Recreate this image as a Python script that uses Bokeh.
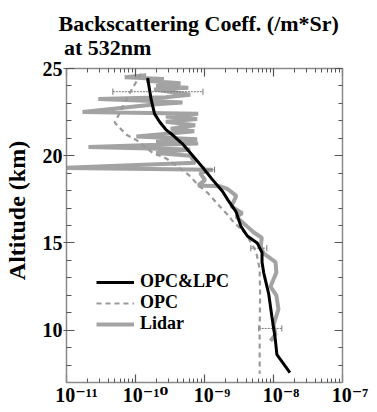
from bokeh.plotting import figure
from bokeh.models import (FixedTicker, LinearAxis, LogAxis, Title, Legend, LegendItem)
from bokeh.embed import file_html
from bokeh.resources import INLINE

# ---- data (altitude km, backscattering coefficient /m*Sr) ----
opc_lpc_alt = [24.45, 23.2, 22.4, 21.95, 21.5, 21.2, 20.7, 20.05, 19.4, 18.7, 17.95, 17.47,
               16.8, 15.95, 15.4, 15.0, 14.45, 13.9, 13.3, 12.1, 10.8, 9.5, 8.6, 7.57]
opc_lpc_val = [1.50e-10, 1.69e-10, 1.89e-10, 2.23e-10, 2.75e-10, 3.43e-10, 4.75e-10, 6.58e-10,
               9.1e-10, 1.26e-9, 1.83e-9, 2.18e-9, 2.86e-9, 3.37e-9, 4.18e-9, 5.8e-9, 6.82e-9,
               6.82e-9, 7.2e-9, 8.5e-9, 9.46e-9, 1.06e-8, 1.12e-8, 1.73e-8]

opc_alt = [24.7, 23.5, 22.5, 21.9, 21.6, 21.2, 20.9, 20.1, 19.96, 19.8, 18.9, 18.3, 17.86,
           17.1, 16.5, 16.3, 15.5, 14.5, 13.5, 12.0, 10.0, 7.5]
opc_val = [1.2e-10, 8.0e-11, 6.0e-11, 5.0e-11, 5.9e-11, 7.4e-11, 1.03e-10, 1.86e-10, 2.44e-10,
           2.9e-10, 5.9e-10, 8.2e-10, 1.12e-9, 1.66e-9, 2.3e-9, 2.5e-9, 4.0e-9, 5.6e-9, 6.3e-9,
           6.4e-9, 6.3e-9, 6.3e-9]

lidar_alt = [24.62, 24.5, 24.4, 24.3, 24.15, 24.0, 23.9, 23.8, 23.5, 23.35, 23.25, 23.15, 23.05,
             22.95, 22.5, 22.4, 22.25, 22.1, 21.95, 21.75, 21.55, 21.4, 21.1, 20.95, 20.8, 20.7,
             20.5, 20.35, 20.15, 20.0, 19.6, 19.3, 19.2, 19.0, 18.6, 18.3, 18.25, 18.1, 17.7,
             17.1, 16.7, 16.5, 15.95, 15.6, 15.3, 14.8, 14.4, 13.9, 13.3, 12.5, 12.0, 11.2,
             10.3, 9.76, 9.38]
lidar_val = [1.43e-10, 6.98e-11, 2.58e-10, 1.43e-10, 4.49e-10, 1.99e-10, 5.83e-10, 1.86e-10,
             6.22e-10, 2.75e-10, 2.89e-11, 1.43e-10, 4.80e-10, 1.99e-10, 1.71e-11, 8.09e-10,
             2.75e-10, 7.83e-10, 2.75e-10, 7.33e-10, 3.24e-10, 7.1e-10, 1.03e-10, 7.83e-10,
             1.99e-10, 8.09e-10, 2.08e-11, 6.22e-10, 1.99e-10, 6.22e-10, 7.33e-10, 9.0e-12,
             1.32e-9, 8.63e-10, 1.02e-9, 8.09e-10, 1.66e-9, 2.15e-9, 2.89e-9, 2.45e-9, 3.52e-9,
             2.89e-9, 4.14e-9, 5.2e-9, 6.76e-9, 6.54e-9, 7.2e-9, 1.07e-8, 1.10e-8, 9.06e-9,
             1.10e-8, 1.18e-8, 1.0e-8, 1.07e-8, 9.06e-9]

err_alt = [23.67, 19.2, 14.7, 10.1]
err_lo = [4.7e-11, 1.0e-9, 4.7e-9, 6.1e-9]
err_hi = [9.5e-10, 1.4e-9, 8.0e-9, 1.32e-8]

x_major = [1e-11, 1e-10, 1e-9, 1e-8, 1e-7]
x_tick_labels = ["10\u207b\u00b9\u00b9", "10\u207b\u00b9\u2070", "10\u207b\u2079",
                 "10\u207b\u2078", "10\u207b\u2077"]
y_major = [10, 15, 20, 25]

FONT = "Liberation Serif"
AX = "#8a8a8a"
TK = "#555555"
NB = "\u00a0"

p = figure(width=376, height=415, x_axis_type="log", x_range=(1e-11, 1e-7), y_range=(7, 25),
           output_backend="svg", toolbar_location=None,
           min_border_left=61, min_border_right=34, min_border_top=67, min_border_bottom=33)
p.grid.visible = False
p.outline_line_color = None

x_minor = [k * d for d in [1e-11, 1e-10, 1e-9, 1e-8] for k in range(2, 10)]
y_minor = [v for v in range(8, 25) if v not in y_major]

bottom = p.xaxis[0]
bottom.ticker = FixedTicker(ticks=x_major, minor_ticks=x_minor)
bottom.major_label_overrides = {t: NB * (4 if len(s) > 4 else 3) + s for t, s in zip(x_major, x_tick_labels)}
left = p.yaxis[0]
left.ticker = FixedTicker(ticks=y_major, minor_ticks=y_minor)
left.axis_label = NB * 5 + "Altitude (km)"

top = LogAxis(ticker=FixedTicker(ticks=x_major, minor_ticks=x_minor),
              major_label_text_alpha=0, major_label_text_font_size="1px", major_label_standoff=0)
right = LinearAxis(ticker=FixedTicker(ticks=y_major, minor_ticks=y_minor),
                   major_label_text_alpha=0, major_label_text_font_size="1px", major_label_standoff=0)
p.add_layout(top, "above")
p.add_layout(right, "right")

for ax in [bottom, left, top, right]:
    ax.axis_line_color = AX
    ax.axis_line_width = 1.5
    ax.major_tick_line_color = TK
    ax.minor_tick_line_color = TK
    ax.major_tick_line_width = 1.2
    ax.minor_tick_line_width = 1
    ax.major_tick_in = 8
    ax.major_tick_out = 0
    ax.minor_tick_in = 4
    ax.minor_tick_out = 0
    ax.major_label_text_font = FONT
    ax.major_label_text_font_style = "bold"
left.major_label_text_color = "black"
bottom.major_label_text_color = "black"
bottom.major_label_text_font = "Liberation Serif, DejaVu Serif"
left.major_tick_out = 3
left.minor_tick_in = 5
left.major_label_text_font_size = "20px"
left.major_label_standoff = 1
left.axis_label_text_font = FONT
left.axis_label_text_font_style = "bold"
left.axis_label_text_font_size = "24px"
left.axis_label_text_color = "black"
left.axis_label_standoff = 10
bottom.major_label_text_font_size = "20px"
bottom.major_label_standoff = 1

# data
r_lidar = p.line(lidar_val, lidar_alt, line_color="#a3a3a3", line_width=4)
p.segment(err_lo, err_alt, err_hi, err_alt, line_color="#777777", line_width=1, line_dash="2 1")
cap_h = 0.18
p.segment(err_lo, [a - cap_h for a in err_alt], err_lo, [a + cap_h for a in err_alt], line_color="#777777", line_width=1)
p.segment(err_hi, [a - cap_h for a in err_alt], err_hi, [a + cap_h for a in err_alt], line_color="#777777", line_width=1)
r_opc = p.line(opc_val, opc_alt, line_color="#999999", line_width=2.2, line_dash="5 4")
r_main = p.line(opc_lpc_val, opc_lpc_alt, line_color="black", line_width=3)

legend = Legend(items=[LegendItem(label="OPC&LPC", renderers=[r_main]),
                       LegendItem(label="OPC", renderers=[r_opc]),
                       LegendItem(label="Lidar", renderers=[r_lidar])],
                location=(30, 48), glyph_width=38, glyph_height=18, label_height=18,
                spacing=-2, padding=0, margin=0, label_standoff=6,
                label_text_font=FONT, label_text_font_style="bold", label_text_font_size="18px",
                label_text_color="black",
                border_line_alpha=0, background_fill_alpha=0)
p.add_layout(legend, "center")

p.add_layout(Title(text="Backscattering Coeff. (/m*Sr)\n" + NB + "at 532nm", text_font=FONT,
                   text_font_style="bold", text_font_size="22px", text_line_height=0.95,
                   text_color="black", align="left", offset=-8, standoff=17), "above")

open("out.html", "w").write(file_html(p, INLINE))
